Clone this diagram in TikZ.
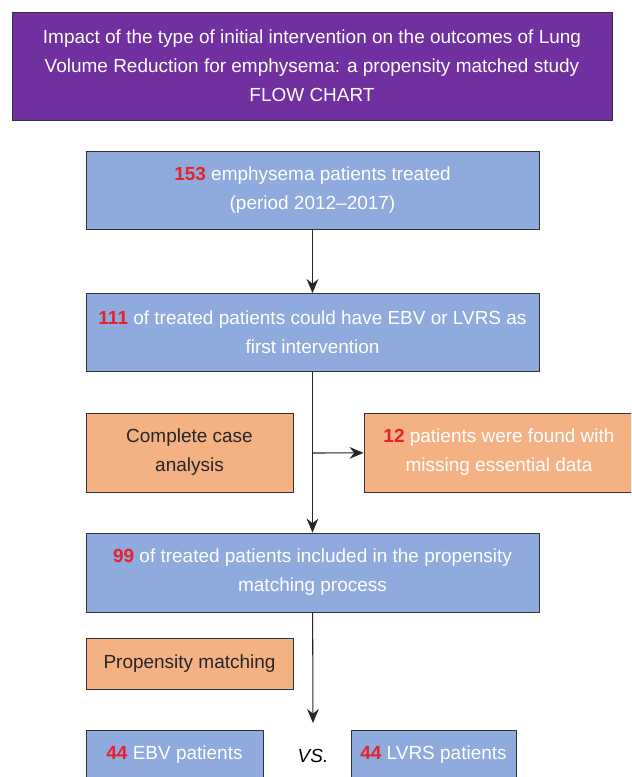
\documentclass[tikz,border=0pt]{standalone}
\usepackage{fontspec}
\setmainfont{Liberation Sans}
\usetikzlibrary{arrows.meta}
\definecolor{titlepurple}{HTML}{7030A0}
\definecolor{boxblue}{HTML}{8FAADC}
\definecolor{boxorange}{HTML}{F4B183}
\definecolor{numred}{HTML}{E8202A}
\definecolor{edgegray}{HTML}{333333}
\newcommand{\num}[1]{\textcolor{numred}{\textbf{#1}}}
\begin{document}
\begin{tikzpicture}[x=0.03cm,y=-0.03cm,
    box/.style={draw=edgegray,line width=0.7pt,align=center,inner sep=0pt,
      font=\fontsize{16.2}{24.8}\selectfont},
    bluebox/.style={box,fill=boxblue,text=white},
    orangebox/.style={box,fill=boxorange,text=black!85},
    flow/.style={draw=black!85,line width=0.9pt,-{Stealth[length=12pt,width=10pt,inset=4pt]}}]
		    \clip (0,0) rectangle (631,777);
		    \useasboundingbox (0,0) rectangle (631,777);
		    \node[box,fill=titlepurple,text=white,minimum width=18cm,minimum height=3.24cm] (TT) at (312,66)
		        {Impact of the type of initial intervention on the outcomes of Lung\\Volume Reduction for emphysema: a propensity matched study\\FLOW CHART};
		    \node[bluebox,minimum width=13.59cm,minimum height=2.34cm] (AA) at (312.5,190)
		        {\num{153} emphysema patients treated\\(period 2012--2017)};
		    \node[bluebox,minimum width=13.59cm,minimum height=2.34cm] (AB) at (312.5,332.5)
		        {\num{111} of treated patients could have EBV or LVRS as\\first intervention};
		    \node[orangebox,minimum width=6.21cm,minimum height=2.37cm] (AC) at (189.5,452.5)
		        {Complete case\\analysis};
		    \node[orangebox,text=white,minimum width=8.1cm,minimum height=2.37cm] (AD) at (499,452.5)
		        {\num{12} patients were found with\\missing essential data};
		    \node[bluebox,minimum width=13.59cm,minimum height=2.37cm] (AE) at (312.5,572.5)
		        {\num{99} of treated patients included in the propensity\\matching process};
		    \node[orangebox,minimum width=6.21cm,minimum height=1.53cm] (AF) at (189.5,663.5)
		        {Propensity matching};
		    \node[bluebox,minimum width=5.31cm,minimum height=1.5cm] (AG) at (174.5,755)
		        {\num{44} EBV patients};
		    \node[bluebox,minimum width=4.95cm,minimum height=1.5cm] (AH) at (433.5,755)
		        {\num{44} LVRS patients};
		    \node[font=\fontsize{16.2}{24.8}\selectfont\itshape] (VS) at (313,756) {VS.};
		    \coordinate (BR) at (313,453);
		    \coordinate (EN) at (313,723);
		    
		    \draw[flow] (AA)--(AB);
		    \draw[flow] (AB)--(AE);
		    \draw[flow] (BR)--(AD);
		    \draw[flow] (AE)--(EN);
		    \end{tikzpicture}
\end{document}
